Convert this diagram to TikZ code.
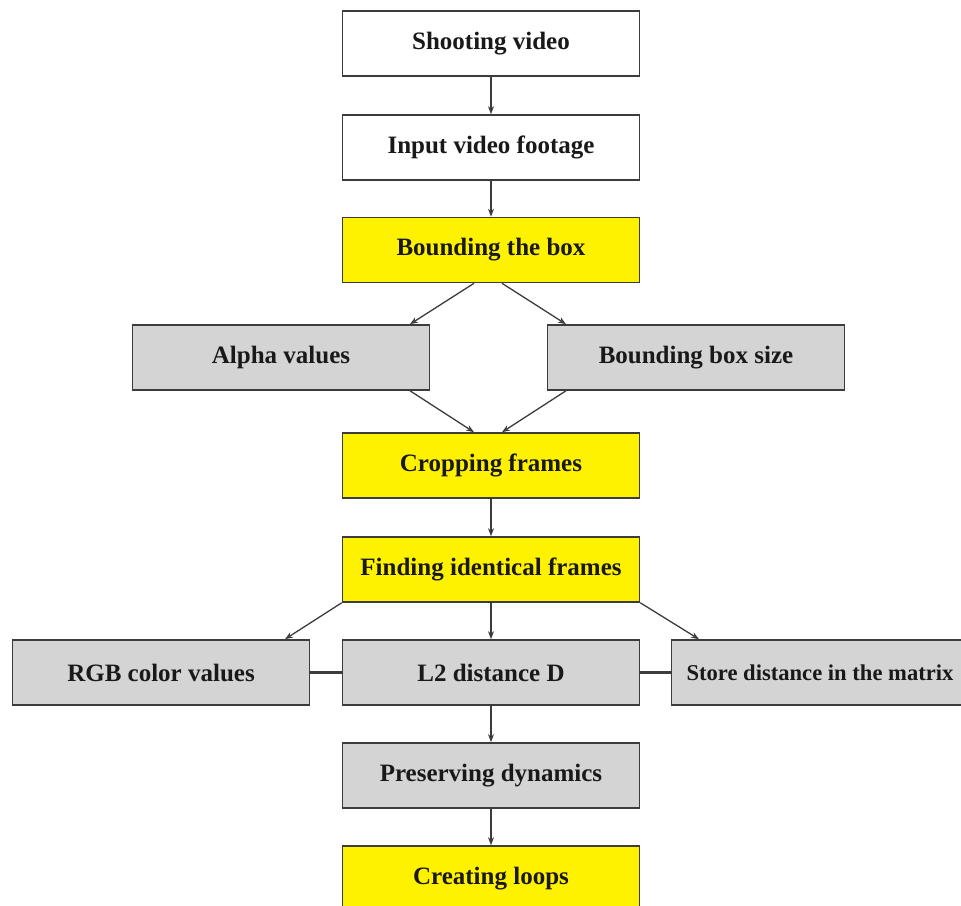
\documentclass[tikz,border=0pt]{standalone}
\usepackage{fontspec}
\setmainfont{Liberation Serif}
\usetikzlibrary{arrows.meta}
\definecolor{boxyellow}{RGB}{255,242,0}
\definecolor{boxgray}{RGB}{212,212,212}
\definecolor{edgecol}{RGB}{60,60,60}
\tikzset{
  stepbox/.style={draw=edgecol, line width=1.6pt, minimum width=297pt, minimum height=65pt,
    inner sep=0pt, font=\fontsize{25}{28}\selectfont\bfseries, text=black!90},
  whitebox/.style={stepbox, fill=white},
  yellowbox/.style={stepbox, fill=boxyellow},
  graybox/.style={stepbox, fill=boxgray},
  arr/.style={draw=edgecol, line width=1.3pt, -{Stealth[length=8pt,width=6pt]}},
  link/.style={draw=edgecol, line width=2.6pt}
}
\begin{document}
\begin{tikzpicture}[x=1pt,y=1pt]
\useasboundingbox (0,0) rectangle (961,905);
\node[whitebox]  (shoot) at (491,861.5) {Shooting video};
\node[whitebox]  (input) at (491,757.5) {Input video footage};
\node[yellowbox] (bound) at (491,655)   {Bounding the box};
\node[graybox]   (alpha) at (281,547.5) {Alpha values};
\node[graybox]   (bbsize) at (696,547.5) {Bounding box size};
\node[yellowbox] (crop)  at (491,439.5) {Cropping frames};
\node[yellowbox] (find)  at (491,335.5) {Finding identical frames};
\node[graybox]   (rgb)   at (161,232.5) {RGB color values};
\node[graybox]   (ltwo)  at (491,232.5) {L2 distance D};
\node[graybox, font=\fontsize{22.6}{26}\selectfont\bfseries] (store) at (820,232.5) {Store distance in the matrix};
\node[graybox]   (pres)  at (491,129.5) {Preserving dynamics};
\node[yellowbox] (loops) at (491,26.5)  {Creating loops};

\draw[arr] (shoot) -- (input);
\draw[arr] (input) -- (bound);
\draw[arr] ([xshift=-17pt]bound.south) -- ([xshift=129pt]alpha.north);
\draw[arr] ([xshift=11pt]bound.south) -- ([xshift=-130pt]bbsize.north);
\draw[arr] ([xshift=129pt]alpha.south) -- ([xshift=-17pt]crop.north);
\draw[arr] ([xshift=-130pt]bbsize.south) -- ([xshift=11pt]crop.north);
\draw[arr] (crop) -- (find);
\draw[arr] (find.south west) -- ([xshift=124pt]rgb.north);
\draw[arr] (find) -- (ltwo);
\draw[arr] (find.south east) -- ([xshift=-121pt]store.north);
\draw[link] (rgb.east) -- (ltwo.west);
\draw[link] (ltwo.east) -- (store.west);
\draw[arr] (ltwo) -- (pres);
\draw[arr] (pres) -- (loops);
\end{tikzpicture}
\end{document}
